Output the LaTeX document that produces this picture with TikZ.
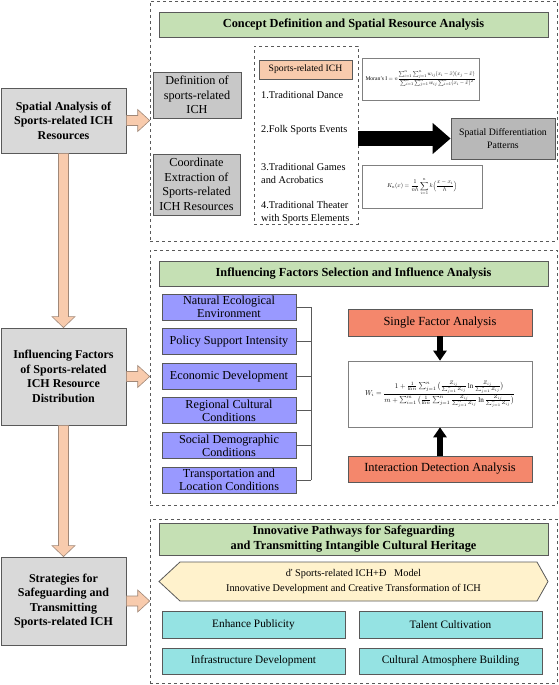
\documentclass[tikz,border=0pt]{standalone}
\usepackage{fontspec}
\setmainfont{Liberation Serif}
\usepackage{amsmath}
\usepackage{tikz}
\usetikzlibrary{positioning}
\usetikzlibrary{arrows.meta, calc}

\definecolor{lgray}{HTML}{D9D9D9}
\definecolor{mgray}{HTML}{C8C8C8}
\definecolor{dgray}{HTML}{595959}
\definecolor{tgreen}{HTML}{C5E0B4}
\definecolor{peach}{HTML}{F8CBAD}
\definecolor{peachb}{HTML}{A08878}
\definecolor{lpurple}{HTML}{9999FF}
\definecolor{salmon}{HTML}{F4876C}
\definecolor{lcyan}{HTML}{95E3E3}
\definecolor{lyellow}{HTML}{FFF2CC}

\tikzset{
  box/.style={draw=dgray, line width=0.8pt, align=center, inner sep=1pt},
  mainbox/.style={box, fill=lgray, font=\bfseries\fontsize{12}{14.5}\selectfont, minimum width=125, minimum height=#1},
  panel/.style={draw=dgray, dashed, line width=0.6pt, minimum width=407, minimum height=#1},
  titlebox/.style={box, fill=tgreen, font=\bfseries\fontsize{12.3}{15}\selectfont, minimum width=389, minimum height=#1},
  graybox/.style={box, fill=mgray, font=\fontsize{12.2}{14.5}\selectfont},
  factor/.style={box, fill=lpurple, font=\fontsize{12.2}{13}\selectfont, minimum width=134, minimum height=26},
  redbox/.style={box, fill=salmon, font=\fontsize{12.4}{14}\selectfont, minimum width=184, minimum height=#1},
  cyanbox/.style={box, fill=lcyan, font=\fontsize{11.3}{13}\selectfont, minimum width=183, minimum height=#1},
  formula/.style={draw=gray, line width=0.6pt, fill=white, inner sep=1pt},
  item/.style={anchor=west, align=left, font=\fontsize{10.3}{13}\selectfont, inner sep=0pt},
  barrow/.style={draw=peachb, fill=peach, line width=0.6pt, line join=miter},
}

\begin{document}
\begin{tikzpicture}[x=1pt, y=-1pt]
    \useasboundingbox (0,0) rectangle (558,685);

    % Paneles
    \node[panel=240] (p1) at (353.5,121) {};
    \node[panel=255] (p2) at (353.5,377.5) {};
    \node[panel=164] (p3) at (353.5,601) {};

    % Columna izquierda
    \node[mainbox=65] (sa) at (63.5,120.5) {Spatial Analysis of\\Sports-related ICH\\Resources};
    \node[mainbox=97] (fa) at (63.5,376.5) {Influencing Factors\\of Sports-related\\ICH Resource\\Distribution};
    \node[mainbox=88] (st) at (63.5,601) {Strategies for\\Safeguarding and\\Transmitting\\Sports-related ICH};

    % Flechas verticales
    \foreach \a/\b in {sa/fa, fa/st} {
        \draw[barrow] ($(\a.south)+(-5,0)$) -- ($(\b.north)+(-5,-11)$) -- ($(\b.north)+(-11.5,-11)$)
            -- (\b.north) -- ($(\b.north)+(11.5,-11)$) -- ($(\b.north)+(5,-11)$) -- ($(\a.south)+(5,0)$) -- cycle;
    }

    % Flechas horizontales
    \foreach \a/\b in {sa/p1, fa/p2, st/p3} {
        \coordinate (tip) at (\a.east -| \b.west);
        \draw[barrow] ($(\a.east)+(0,-5)$) -- ($(tip)+(-12,-5)$) -- ($(tip)+(-12,-11)$) -- (tip)
            -- ($(tip)+(-12,11)$) -- ($(tip)+(-12,5)$) -- ($(\a.east)+(0,5)$) -- cycle;
    }

    % Panel 1
    \node[titlebox=25] (t1) at (353.5,24.5) {Concept Definition and Spatial Resource Analysis};
    \node[graybox, minimum width=88, minimum height=46] (def) at (197,95) {Definition of\\sports-related\\ICH};
    \node[graybox, minimum width=87, minimum height=61] (coord) at (196.5,184.5) {Coordinate\\Extraction of\\Sports-related\\ICH Resources};
    \node[draw=dgray, dashed, line width=0.6pt, minimum width=104, minimum height=178] (types) at (306,135) {};
    \node[box, fill=peach, font=\fontsize{9.7}{11}\selectfont, minimum width=93, minimum height=19] (sich) at (305.5,69.5) {Sports-related ICH};
    \node[item] (i1) at (261,95) {1.Traditional Dance};
    \node[item] (i2) at (261,130) {2.Folk Sports Events};
    \node[item] (i3) at (261,173) {3.Traditional Games\\and Acrobatics};
    \node[item] (i4) at (261,213) {4.Traditional Theater\\with Sports Elements};
    \node[formula, minimum width=117, minimum height=42] (moran) at (420.5,79)
        {\resizebox{110pt}{!}{Moran's I $= n\dfrac{\sum_{i=1}^{n}\sum_{j=1}^{n} w_{ij}(x_i-\bar{x})(x_j-\bar{x})}{\sum_{i=1}^{n}\sum_{j=1}^{n} w_{ij}\sum_{i=1}^{n}(x_i-\bar{x})^2}$}};
    \node[formula, minimum width=120, minimum height=43] (kern) at (422,186.5)
        {\resizebox{70pt}{!}{$K_n(x)=\dfrac{1}{nh}\displaystyle\sum_{i=1}^{n} k\Big(\frac{x-x_i}{h}\Big)$}};
    \node[graybox, fill=lgray!85!black, font=\fontsize{9.8}{13}\selectfont, minimum width=104, minimum height=41] (sdp) at (503,138.5) {Spatial Differentiation\\Patterns};
    \draw[line width=15pt, -{Triangle[width=30pt, length=18pt]}] (types.east |- sdp) -- (sdp.west);

    % Panel 2
    \node[titlebox=25] (t2) at (353.5,273.5) {Influencing Factors Selection and Influence Analysis};
    \foreach \i/\txt in {1/Natural Ecological\\Environment, 2/Policy Support Intensity, 3/Economic Development,
                         4/Regional Cultural\\Conditions, 5/Social Demographic\\Conditions, 6/Transportation and\\Location Conditions} {
        \node[factor] (f\i) at (229,{307+34.6*(\i-1)}) {\txt};
        \draw[dgray, line width=0.8pt] (f\i.east) -- ++(15,0);
    }
    \draw[dgray, line width=0.8pt] ($(f1.east)+(15,0)$) -- ($(f6.east)+(15,0)$);
    \node[redbox=27] (sfa) at (440,322.5) {Single Factor Analysis};
    \node[formula, minimum width=184, minimum height=66] (wi) at (440,394)
        {\resizebox{150pt}{!}{$W_i=\dfrac{1+\frac{1}{\ln n}\sum_{j=1}^{n}\big(\frac{Z_{ij}}{\sum_{j=1}^{n}Z_{ij}}\ln\frac{Z_{ij}}{\sum_{j=1}^{n}Z_{ij}}\big)}{m+\sum_{i=1}^{m}\big(\frac{1}{\ln n}\sum_{j=1}^{n}\frac{Z_{ij}}{\sum_{j=1}^{n}Z_{ij}}\ln\frac{Z_{ij}}{\sum_{j=1}^{n}Z_{ij}}\big)}$}};
    \node[redbox=26] (ida) at (440,469) {Interaction Detection Analysis};
    \draw[line width=6pt, -{Triangle[width=13pt, length=10pt]}] (sfa.south) -- (wi.north);
    \draw[line width=6pt, -{Triangle[width=13pt, length=10pt]}] (ida.north) -- (wi.south);

    % Panel 3
    \node[titlebox=32] (t3) at (353.5,539) {Innovative Pathways for Safeguarding\\and Transmitting Intangible Cultural Heritage};
    \draw[draw=dgray, fill=lyellow, line width=0.8pt] (159,581.5) -- (180,562) -- (537,562) -- (548,581.5) -- (537,601) -- (180,601) -- cycle;
    \node[align=center, font=\fontsize{10.3}{15}\selectfont, inner sep=0pt] (model) at (353.5,581.5)
        {ď Sports-related ICH+Đ \ \ Model\\Innovative Development and Creative Transformation of ICH};
    \node[cyanbox=27] (ep) at (253.5,624.5) {Enhance Publicity};
    \node[cyanbox=27] (tc) at (450.5,624.5) {Talent Cultivation};
    \node[cyanbox=26] (id) at (253.5,661) {Infrastructure Development};
    \node[cyanbox=26] (cab) at (450.5,661) {Cultural Atmosphere Building};
\end{tikzpicture}
\end{document}
